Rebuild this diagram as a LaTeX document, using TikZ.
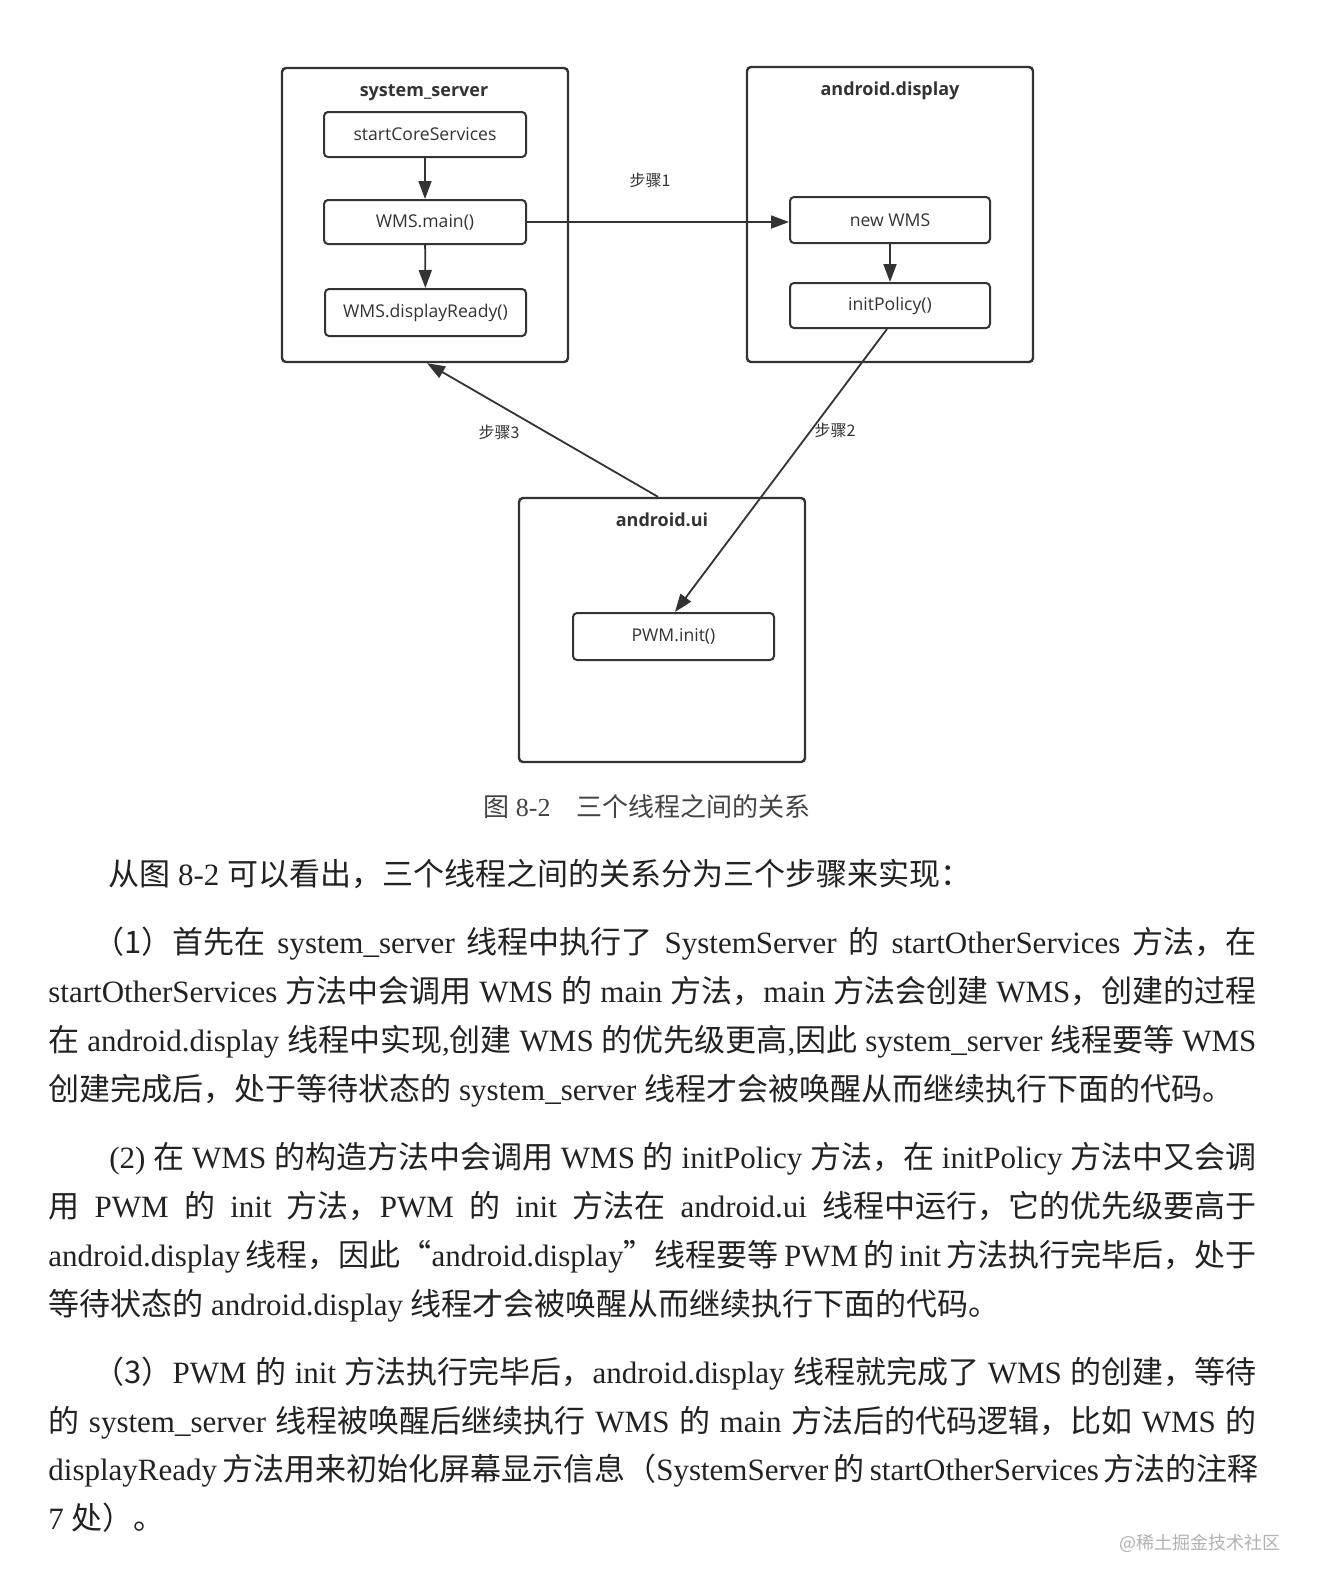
\documentclass[tikz,border=0pt]{standalone}
\usepackage{fontspec}
\setmainfont{Liberation Serif}
\newfontfamily\zhf{Noto Sans CJK SC}
\newfontfamily\dsf{Open Sans}
\usetikzlibrary{arrows.meta,calc}
\definecolor{ln}{HTML}{333333}
\definecolor{tx}{HTML}{222222}
\newcommand\Z[1]{{\zhf #1}}
\tikzset{
 outerbox/.style={draw=ln, line width=1.2pt, rounded corners=2pt, minimum width=143pt, inner sep=0pt},
 innerbox/.style={draw=ln, line width=1pt, rounded corners=2pt, minimum width=100pt, minimum height=23pt, inner sep=0pt, font=\dsf\fontsize{8.8pt}{10pt}\selectfont, text=ln},
 ttl/.style={font=\dsf\bfseries\fontsize{9pt}{10pt}\selectfont, text=ln, inner sep=0pt},
 steplbl/.style={font=\zhf\fontsize{8pt}{9pt}\selectfont, text=ln, inner sep=0pt},
 arr/.style={draw=ln, line width=0.9pt, -{Triangle[length=9pt,width=6.5pt]}},
 bodyline/.style={anchor=base west, inner sep=0pt, text=tx, font=\fontsize{15.5pt}{18pt}\selectfont},
}
\begin{document}
\begin{tikzpicture}[x=0.5pt, y=-0.5pt]
\fill[white] (0,0) rectangle (1318,1592);
\useasboundingbox (0,0) rectangle (1318,1592);

% system_server
\node[outerbox, minimum height=147pt] (ss) at (425,215) {};
\node[ttl] (sst) at (424,93) {system\_server};
\node[innerbox, minimum width=101pt, minimum height=22.5pt] (scs) at (425,134.5) {startCoreServices};
\node[innerbox, minimum width=101pt, minimum height=22pt] (wmain) at (425,222) {WMS.main()};
\node[innerbox, minimum width=100.5pt, minimum height=23.5pt] (wdr) at (425.5,312.5) {WMS.displayReady()};

% android.display
\node[outerbox, minimum height=147.5pt] (ad) at (890,214.5) {};
\node[ttl] (adt) at (890,91) {android.display};
\node[innerbox] (nw) at (890,220) {new WMS};
\node[innerbox, minimum height=22.5pt] (ip) at (890,305.5) {initPolicy()};

% android.ui
\node[outerbox, minimum height=132pt] (ui) at (662,630) {};
\node[ttl] (uit) at (662,520) {android.ui};
\node[innerbox, minimum width=100.5pt, minimum height=23.5pt] (pwm) at (673.5,636.5) {PWM.init()};

% arrows
\draw[arr] (scs) -- (wmain);
\draw[arr] (wmain) -- (wdr);
\draw[arr] (wmain.east) -- (wmain.east -| nw.west);
\draw[arr] (nw) -- (ip);
\draw[arr] ([xshift=-1.5pt]ip.south) -- ([xshift=0.75pt]pwm.north);
\draw[arr] ([xshift=-2pt]ui.north) -- ([xshift=1pt]ss.south);

% step labels
\node[steplbl] (s1) at (650,180) {步骤1};
\node[steplbl] (s3) at (499,432) {步骤3};
\node[steplbl] (s2) at (835,430) {步骤2};

% caption
\node[anchor=west, inner sep=0pt, text=tx!85, font=\fontsize{13pt}{15pt}\selectfont] (cap) at (483,807) {\Z{图} 8-2\hspace{13pt}\Z{三个线程之间的关系}};

% body text
\node[bodyline] (b0) at (108,885) {\Z{从图} 8-2 \Z{可以看出，三个线程之间的关系分为三个步骤来实现：}};

\node[bodyline] (b1) at (93,953) {\makebox[581.5pt][s]{\Z{（1）首先在} system\_server \Z{线程中执行了} SystemServer \Z{的} startOtherServices \Z{方法，在}}};
\node[bodyline] (b2) at (48,1002) {\makebox[604pt][s]{startOtherServices \Z{方法中会调用} WMS \Z{的} main \Z{方法，}main \Z{方法会创建} WMS\Z{，创建的过程}}};
\node[bodyline] (b3) at (48,1051) {\makebox[604pt][s]{\Z{在} android.display \Z{线程中实现},\Z{创建} WMS \Z{的优先级更高},\Z{因此} system\_server \Z{线程要等} WMS}};
\node[bodyline] (b4) at (48,1100) {\Z{创建完成后，处于等待状态的} system\_server \Z{线程才会被唤醒从而继续执行下面的代码。}};

\node[bodyline] (b5) at (109,1168) {\makebox[573.5pt][s]{(2) \Z{在} WMS \Z{的构造方法中会调用} WMS \Z{的} initPolicy \Z{方法，在} initPolicy \Z{方法中又会调}}};
\node[bodyline] (b6) at (48,1217) {\makebox[604pt][s]{\Z{用} PWM \Z{的} init \Z{方法，}PWM \Z{的} init \Z{方法在} android.ui \Z{线程中运行，它的优先级要高于}}};
\node[bodyline] (b7) at (48,1266) {\makebox[604pt][s]{android.display \Z{线程，因此“}android.display\Z{”线程要等} PWM \Z{的} init \Z{方法执行完毕后，处于}}};
\node[bodyline] (b8) at (48,1315) {\Z{等待状态的} android.display \Z{线程才会被唤醒从而继续执行下面的代码。}};

\node[bodyline] (b9) at (93,1383) {\makebox[581.5pt][s]{\Z{（3）}PWM \Z{的} init \Z{方法执行完毕后，}android.display \Z{线程就完成了} WMS \Z{的创建，等待}}};
\node[bodyline] (b10) at (48,1432) {\makebox[604pt][s]{\Z{的} system\_server \Z{线程被唤醒后继续执行} WMS \Z{的} main \Z{方法后的代码逻辑，比如} WMS \Z{的}}};
\node[bodyline] (b11) at (48,1480) {\makebox[604pt][s]{displayReady \Z{方法用来初始化屏幕显示信息（}SystemServer \Z{的} startOtherServices \Z{方法的注释}}};
\node[bodyline] (b12) at (48,1529) {7 \Z{处）。}};

% watermark
\node[anchor=east, inner sep=0pt, text=black!30, font=\zhf\fontsize{9pt}{10pt}\selectfont] (wm) at (1281,1543) {@稀土掘金技术社区};
\end{tikzpicture}
\end{document}
